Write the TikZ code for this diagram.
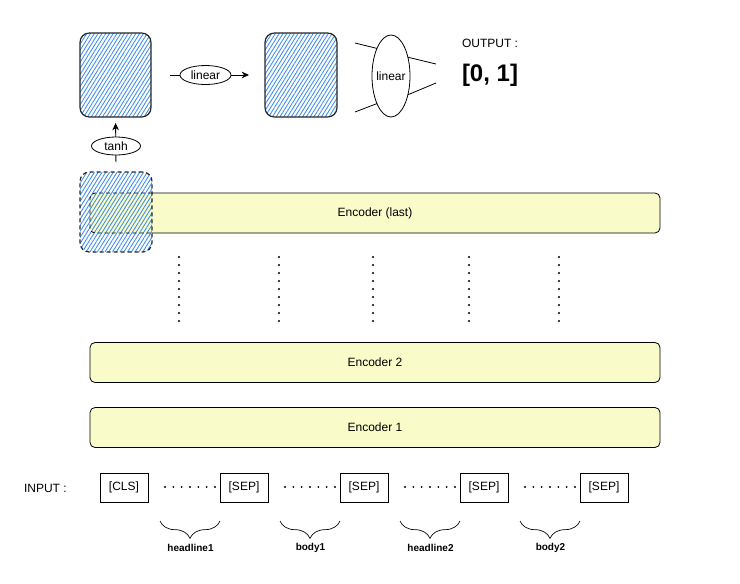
\documentclass[tikz,border=0pt]{standalone}
\usepackage{fontspec}
\setmainfont{Liberation Sans}
\usetikzlibrary{arrows.meta,patterns.meta,decorations.pathreplacing,shapes.geometric}
\definecolor{encyellow}{RGB}{249,252,201}
\definecolor{hatchblue}{RGB}{60,140,240}
\tikzset{
 base/.style={font=\fontsize{9pt}{11pt}\selectfont, inner sep=0pt, outer sep=0pt},
 hatchbox/.style={base, draw=black!85, line width=0.9pt, rounded corners=7pt,
   pattern={Lines[angle=58,distance=2.4pt,line width=0.65pt]}, pattern color=hatchblue},
 encbox/.style={base, fill=encyellow, minimum width=427.5pt, minimum height=30pt, rounded corners=3.75pt},
 encline/.style={line width=0.6pt, rounded corners=3.75pt},
 tokbox/.style={base, draw, line width=0.6pt, minimum width=36pt, minimum height=21.75pt},
 oval/.style={base, ellipse, draw, line width=0.6pt, fill=white},
 arr/.style={line width=0.6pt, -{Stealth[length=5.5pt,width=5pt]}},
 thinline/.style={line width=0.6pt},
 lbl/.style={inner sep=0pt, outer sep=0pt, font=\bfseries\fontsize{7.5pt}{9pt}\selectfont},
 brc/.style={line width=0.5pt, decorate, decoration={brace, mirror, amplitude=13pt}},
}
\begin{document}
\begin{tikzpicture}[x=0.75pt,y=-0.75pt]
\useasboundingbox (0,0) rectangle (740,583);

% top hatched boxes
\node[hatchbox, minimum width=53.25pt, minimum height=63pt] (boxA) at (115.5,75) {};
\node[hatchbox, minimum width=54pt, minimum height=63pt] (boxB) at (301,75) {};

% encoders
\node[encbox] (enc3) at (375,213) {Encoder (last)};
\node[encbox, draw, line width=0.6pt] (enc2) at (375,362.5) {Encoder 2};
\node[encbox, draw, line width=0.6pt] (enc1) at (375,427.5) {Encoder 1};

% dashed hatched CLS output box
\node[hatchbox, dash pattern=on 3pt off 2.25pt, minimum width=54pt, minimum height=60pt] (boxC) at (116,212) {};
\draw[encline] (boxC.east |- enc3.north) -- (enc3.north east) -- (enc3.south east) -- (boxC.east |- enc3.south);
\draw[encline, dash pattern=on 3pt off 2.25pt] (boxC.east |- enc3.north) -- (enc3.north west) -- (enc3.south west) -- (boxC.east |- enc3.south);

% arrows with labels
\draw[arr, shorten <=7.5pt, shorten >=4.5pt] (boxC.north) -- (boxA.south);
\node[oval, minimum width=36.75pt, minimum height=13.5pt] (tanh) at (116,146) {tanh};
\draw[arr, shorten <=14.25pt, shorten >=12pt] (boxA.east) -- (boxB.west);
\node[oval, minimum width=38.25pt, minimum height=14.25pt] (lin1) at (205.5,75) {linear};

% big linear ellipse
\node[oval, fill=none, minimum width=28.5pt, minimum height=61.5pt] (lin2) at (391,76) {\makebox[0pt]{linear}};
\coordinate (inA) at (355,43);
\coordinate (inB) at (355,112);
\coordinate (outA) at (436,64);
\coordinate (outB) at (436,83);
\draw[thinline] (inA) -- (lin2.117);
\draw[thinline] (inB) -- (lin2.243);
\draw[thinline] (lin2.48) -- (outA);
\draw[thinline] (lin2.312) -- (outB);

% output
\node[base, anchor=west] (outlbl) at (462,43) {OUTPUT :};
\node[inner sep=0pt, outer sep=0pt, anchor=west, font=\bfseries\fontsize{18pt}{21pt}\selectfont] (outval) at (462,75) {[0, 1]};

% vertical dots
\foreach \x in {179,279,373,469,559}
  \foreach \k in {0,...,8}
    \fill (\x,257+8*\k) circle (0.8pt);

% input row
\node[base, anchor=west] (inlbl) at (24,488) {INPUT :};
\node[tokbox] (cls) at (124,487.5) {[CLS]};
\node[tokbox] (sep1) at (244,487.5) {[SEP]};
\node[tokbox] (sep2) at (364,487.5) {[SEP]};
\node[tokbox] (sep3) at (484,487.5) {[SEP]};
\node[tokbox] (sep4) at (604,487.5) {[SEP]};
\foreach \s in {165,285,405,525}
  \foreach \k in {0,...,6}
    \fill (\s+\k*8.333,487) circle (0.8pt);

% braces
\coordinate (b1) at (160,521);
\coordinate (b2) at (280,521);
\coordinate (b3) at (400,521);
\coordinate (b4) at (520,521);
\draw[brc] (b1) -- (b1 -| sep1.west);
\draw[brc] (b2) -- (b2 -| sep2.west);
\draw[brc] (b3) -- (b3 -| sep3.west);
\draw[brc] (b4) -- (b4 -| sep4.west);
\node[lbl] (l1) at (190.5,548) {headline1};
\node[lbl] (l2) at (310.5,548) {body1};
\node[lbl] (l3) at (430.5,548) {headline2};
\node[lbl] (l4) at (550.5,548) {body2};
\end{tikzpicture}
\end{document}
